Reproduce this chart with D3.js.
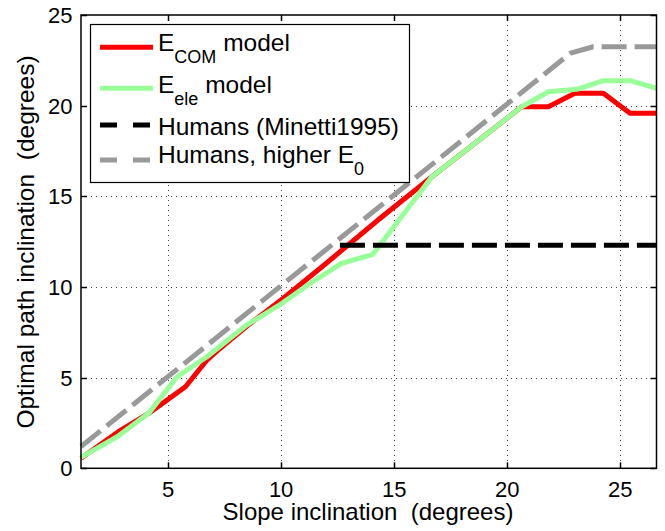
<!DOCTYPE html>
<html>
<meta charset="utf-8">
<style>
  body { margin: 0; background: #fff; }
  text { font-family: "Liberation Sans", Arial, sans-serif; fill: #000; }
</style>
<svg width="665" height="531"></svg>
<script src="https://d3js.org/d3.v7.min.js"></script>
<script>
  // data (slope in degrees -> optimal path inclination in degrees)
  var comX = [1.15, 2.8, 4.14, 5.77, 6.72, 7.2, 8.6, 10.0, 11.73, 14.38, 16.67, 20.64, 21.82, 22.99, 24.25, 25.43, 26.6];
  var comY = [0.55, 2.02, 3.03, 4.5, 5.97, 6.5, 7.95, 9.28, 11.03, 13.79, 16.08, 19.94, 19.94, 20.68, 20.68, 19.58, 19.58];

  var eleX = [1.15, 2.75, 4.14, 5.4, 6.72, 8.42, 10.04, 11.4, 12.69, 14.06, 16.67, 20.64, 21.82, 23.07, 24.25, 25.43, 26.6];
  var eleY = [0.6, 1.74, 3.03, 5.05, 6.15, 7.85, 9.1, 10.3, 11.31, 11.8, 16.08, 19.94, 20.77, 20.9, 21.38, 21.38, 20.96];

  var minettiX = [12.6, 26.6];
  var minettiY = [12.3, 12.3];

  var higherX = [1.15, 22.8, 23.8, 26.6];
  var higherY = [1.2, 22.9, 23.25, 23.25];

  var xTicks = [5, 10, 15, 20, 25];
  var yTicks = [0, 5, 10, 15, 20, 25];

  (function () {
    var svg = d3.select("svg");
    var pl = 81, pr = 656.5, pt = 15, pb = 468.3;

    var x = d3.scaleLinear().domain([1.15, 26.6]).range([pl, pr]);
    var y = d3.scaleLinear().domain([0, 25]).range([pb, pt]);

    // grid (dotted)
    var grid = svg.append("g")
      .attr("stroke", "#444").attr("stroke-width", 1).attr("stroke-dasharray", "1,4");
    grid.selectAll(".gx").data(xTicks).enter().append("line")
      .attr("x1", function (d) { return Math.round(x(d)) + 0.5; })
      .attr("x2", function (d) { return Math.round(x(d)) + 0.5; })
      .attr("y1", pt).attr("y2", pb);
    grid.selectAll(".gy").data(yTicks.slice(1, -1)).enter().append("line")
      .attr("y1", function (d) { return Math.round(y(d)) + 0.5; })
      .attr("y2", function (d) { return Math.round(y(d)) + 0.5; })
      .attr("x1", pl).attr("x2", pr);

    // lines
    var line = d3.line()
      .x(function (d) { return x(d[0]); })
      .y(function (d) { return y(d[1]); });

    var series = [
      { xs: comX, ys: comY, color: "#ff0000", dash: null },
      { xs: eleX, ys: eleY, color: "#99ff99", dash: null },
      { xs: minettiX, ys: minettiY, color: "#000000", dash: "25,8" },
      { xs: higherX, ys: higherY, color: "#999999", dash: "25,8" }
    ];

    svg.append("g").selectAll("path").data(series).enter().append("path")
      .attr("d", function (s) { return line(d3.zip(s.xs, s.ys)); })
      .attr("fill", "none")
      .attr("stroke", function (s) { return s.color; })
      .attr("stroke-width", 5)
      .attr("stroke-linejoin", "round")
      .attr("stroke-dasharray", function (s) { return s.dash; });

    // axes box with inward ticks on all sides
    var axes = svg.append("g").attr("stroke", "#000").attr("stroke-width", 1.5);
    axes.append("rect")
      .attr("x", pl).attr("y", pt)
      .attr("width", pr - pl).attr("height", pb - pt)
      .attr("fill", "none");

    var tl = 6;
    xTicks.forEach(function (t) {
      var px = Math.round(x(t)) + 0.5;
      axes.append("line").attr("x1", px).attr("x2", px).attr("y1", pb).attr("y2", pb - tl);
      axes.append("line").attr("x1", px).attr("x2", px).attr("y1", pt).attr("y2", pt + tl);
    });
    yTicks.forEach(function (t) {
      var py = Math.round(y(t)) + 0.5;
      axes.append("line").attr("y1", py).attr("y2", py).attr("x1", pl).attr("x2", pl + tl);
      axes.append("line").attr("y1", py).attr("y2", py).attr("x1", pr).attr("x2", pr - tl);
    });

    // tick labels
    svg.selectAll(".xt").data(xTicks).enter().append("text")
      .attr("x", function (d) { return x(d); })
      .attr("y", 496.5)
      .attr("text-anchor", "middle")
      .attr("font-size", 22)
      .text(function (d) { return d; });

    svg.selectAll(".yt").data(yTicks).enter().append("text")
      .attr("x", 72.5)
      .attr("y", function (d) { return y(d) + 8; })
      .attr("text-anchor", "end")
      .attr("font-size", 22)
      .text(function (d) { return d; });

    // axis labels
    svg.append("text")
      .attr("x", 368).attr("y", 519.5)
      .attr("text-anchor", "middle")
      .attr("font-size", 24)
      .attr("xml:space", "preserve")
      .text("Slope inclination  (degrees)");

    svg.append("text")
      .attr("transform", "translate(34,242) rotate(-90)")
      .attr("text-anchor", "middle")
      .attr("font-size", 24.5)
      .attr("xml:space", "preserve")
      .text("Optimal path inclination  (degrees)");

    // legend
    var legendBox = svg.append("g");
    legendBox.append("rect")
      .attr("x", 90.5).attr("y", 24.5)
      .attr("width", 319).attr("height", 158)
      .attr("fill", "#fff").attr("stroke", "#000").attr("stroke-width", 1.2);

    var legendItems = [
      { main: "E", sub: "COM", tail: " model" },
      { main: "E", sub: "ele", tail: " model" },
      { main: "Humans (Minetti1995)", sub: null, tail: null },
      { main: "Humans, higher E", sub: "0", tail: null }
    ];
    var rowLineY = [47.3, 88.3, 125, 160];
    var rowTextY = [51, 93, 134.5, 162.5];

    legendItems.forEach(function (it, i) {
      var s = series[i];
      legendBox.append("line")
        .attr("x1", 100).attr("x2", 153)
        .attr("y1", rowLineY[i]).attr("y2", rowLineY[i])
        .attr("stroke", s.color).attr("stroke-width", 5)
        .attr("stroke-dasharray", s.dash ? "17,16" : null);

      var t = legendBox.append("text")
        .attr("x", 158).attr("y", rowTextY[i])
        .attr("font-size", 24.5)
        .attr("xml:space", "preserve");
      t.append("tspan").text(it.main);
      if (it.sub) {
        t.append("tspan").attr("dy", 12).attr("font-size", 18).text(it.sub);
      }
      if (it.tail) {
        t.append("tspan").attr("dy", -12).text(it.tail);
      }
    });
  })();
</script>
</html>
